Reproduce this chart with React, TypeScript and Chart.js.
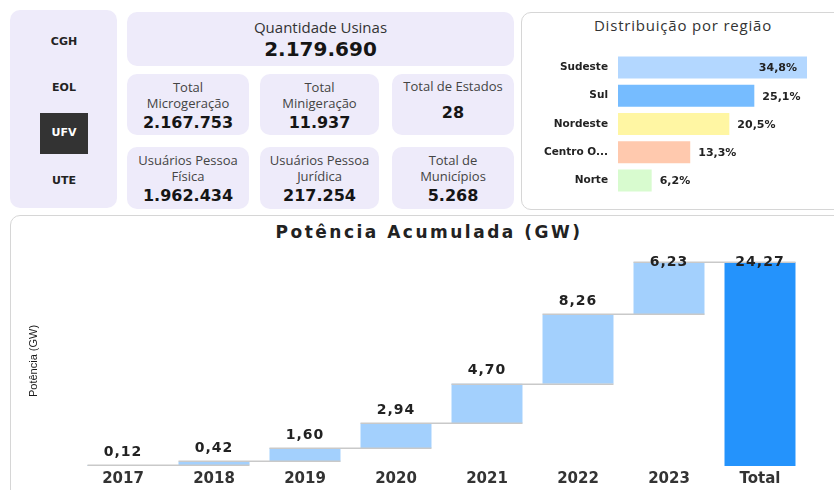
import React, { useEffect, useRef } from "react";
import { Chart, registerables } from "chart.js";

Chart.register(...registerables);

// ---------- data ----------
const slicerItems = ["CGH", "EOL", "UFV", "UTE"];
const selectedItem = "UFV";

const headlineLabel = "Quantidade Usinas";
const headlineValue = "2.179.690";

const kpiLabels = [
  ["Total", "Microgeração"],
  ["Total", "Minigeração"],
  ["Total de Estados"],
  ["Usuários Pessoa", "Física"],
  ["Usuários Pessoa", "Jurídica"],
  ["Total de", "Municípios"],
];
const kpiValues = ["2.167.753", "11.937", "28", "1.962.434", "217.254", "5.268"];

const regionTitle = "Distribuição por região";
const regions = ["Sudeste", "Sul", "Nordeste", "Centro O...", "Norte"];
const regionShares = [34.8, 25.1, 20.5, 13.3, 6.2];
const regionColors = ["#B3D7FF", "#76BCFF", "#FFF6A3", "#FFC9AE", "#D8FBCF"];

const waterfallTitle = "Potência Acumulada (GW)";
const yAxisTitle = "Potência (GW)";
const years = ["2017", "2018", "2019", "2020", "2021", "2022", "2023"];
const yearlyAdditions = [0.12, 0.42, 1.6, 2.94, 4.7, 8.26, 6.23];
const totalLabel = "Total";
const increaseColor = "#A3D0FD";
const totalColor = "#2493FC";

// ---------- helpers ----------
const fmt = (v: number, d: number) => v.toFixed(d).replace(".", ",");

const CARD_BG = "#EEEBFA";

function Line(props: {
  text: string;
  cy: number;
  left: number;
  width: number;
  size: number;
  bold?: boolean;
  family?: string;
  color?: string;
  spacing?: number;
}) {
  const lh = Math.round(props.size * 1.3);
  return (
    <div
      style={{
        position: "absolute",
        left: props.left,
        width: props.width,
        top: props.cy - lh / 2,
        height: lh,
        lineHeight: lh + "px",
        fontSize: props.size,
        fontWeight: props.bold ? 700 : 400,
        fontFamily: props.family || "'Open Sans', sans-serif",
        color: props.color || "#444",
        textAlign: "center",
        whiteSpace: "nowrap",
        letterSpacing: props.spacing ? props.spacing + "px" : undefined,
      }}
    >
      {props.text}
    </div>
  );
}

function RegionChart() {
  const ref = useRef<HTMLCanvasElement | null>(null);
  useEffect(() => {
    if (!ref.current) return;
    const valueLabels = {
      id: "valueLabels",
      afterDatasetsDraw(chart: any) {
        const ctx = chart.ctx;
        const meta = chart.getDatasetMeta(0);
        ctx.save();
        ctx.font = "bold 11px 'DejaVu Sans', sans-serif";
        ctx.fillStyle = "#222";
        ctx.textBaseline = "middle";
        meta.data.forEach((el: any, i: number) => {
          const txt = fmt(regionShares[i], 1) + "%";
          const w = ctx.measureText(txt).width;
          if (el.x + 8 + w > chart.width - 2) {
            ctx.textAlign = "right";
            ctx.fillText(txt, el.x - 10, el.y + 1);
          } else {
            ctx.textAlign = "left";
            ctx.fillText(txt, el.x + 8, el.y + 1);
          }
        });
        ctx.restore();
      },
    };
    const chart = new Chart(ref.current, {
      type: "bar",
      data: {
        labels: regions,
        datasets: [
          {
            data: regionShares,
            backgroundColor: regionColors,
            borderWidth: 0,
            barPercentage: 0.775,
            categoryPercentage: 1,
          },
        ],
      },
      options: {
        indexAxis: "y",
        responsive: false,
        animation: false,
        layout: { padding: { top: 12.75, bottom: 9.75, right: 27, left: 0 } },
        plugins: { legend: { display: false }, tooltip: { enabled: false } },
        scales: {
          x: { display: false, min: 0, max: 34.8 },
          y: {
            grid: { display: false, drawTicks: false },
            border: { display: false },
            ticks: {
              color: "#222",
              padding: 10,
              font: { family: "'DejaVu Sans', sans-serif", size: 10.5, weight: "bold" },
            },
            afterFit(scale: any) {
              scale.width = 97;
            },
          },
        },
      },
      plugins: [valueLabels],
    } as any);
    return () => chart.destroy();
  }, []);
  return (
    <canvas
      ref={ref}
      width={313}
      height={174}
      style={{ position: "absolute", left: 521, top: 37, width: 313, height: 174 }}
    />
  );
}

function WaterfallChart() {
  const ref = useRef<HTMLCanvasElement | null>(null);
  useEffect(() => {
    if (!ref.current) return;
    const ranges: number[][] = [];
    let acc = 0;
    yearlyAdditions.forEach((v) => {
      ranges.push([acc, acc + v]);
      acc += v;
    });
    const total = acc;
    ranges.push([0, total]);
    const shownValues = [...yearlyAdditions, total];
    const colors = [...yearlyAdditions.map(() => increaseColor), totalColor];

    const connectors = {
      id: "connectors",
      afterDatasetsDraw(chart: any) {
        const ctx = chart.ctx;
        const meta = chart.getDatasetMeta(0);
        const ys = chart.scales.y;
        ctx.save();
        ctx.strokeStyle = "#C9C9C9";
        ctx.lineWidth = 1.5;
        for (let i = 0; i < meta.data.length - 1; i++) {
          const a = meta.data[i];
          const b = meta.data[i + 1];
          const y = Math.round(ys.getPixelForValue(ranges[i][1])) + 0.25;
          ctx.beginPath();
          ctx.moveTo(a.x - a.width / 2, y);
          ctx.lineTo(b.x + b.width / 2, y);
          ctx.stroke();
        }
        ctx.restore();
      },
    };
    const labels = {
      id: "barLabels",
      afterDatasetsDraw(chart: any) {
        const ctx = chart.ctx;
        const meta = chart.getDatasetMeta(0);
        ctx.save();
        ctx.letterSpacing = "1px";
        ctx.font = "bold 14px 'DejaVu Sans', sans-serif";
        ctx.fillStyle = "#222";
        ctx.textAlign = "center";
        ctx.textBaseline = "middle";
        meta.data.forEach((el: any, i: number) => {
          const top = Math.min(el.y, el.base);
          const y = Math.max(top - 13, chart.chartArea.top + 6);
          ctx.fillText(fmt(shownValues[i], 2), el.x, y);
        });
        ctx.restore();
      },
    };
    const chart = new Chart(ref.current, {
      type: "bar",
      data: {
        labels: [...years, totalLabel],
        datasets: [
          {
            data: ranges,
            backgroundColor: colors,
            borderWidth: 0,
            borderSkipped: false,
            barPercentage: 0.78,
            categoryPercentage: 1,
          },
        ],
      },
      options: {
        responsive: false,
        animation: false,
        layout: { padding: { top: 16, bottom: 0, left: 13, right: 28.5 } },
        plugins: { legend: { display: false }, tooltip: { enabled: false } },
        scales: {
          x: {
            grid: { display: false, drawTicks: false },
            border: { display: false },
            ticks: {
              color: "#333",
              padding: 4,
              font: { family: "'DejaVu Sans', sans-serif", size: 15, weight: "bold" },
            },
            afterFit(scale: any) {
              scale.height = 24;
            },
          },
          y: {
            min: 0,
            max: 25,
            grid: { display: false, drawTicks: false },
            border: { display: false },
            ticks: { display: false },
            title: {
              display: true,
              text: yAxisTitle,
              color: "#1a1a1a",
              font: {
                family: "'Liberation Sans', Arial, sans-serif",
                size: 11,
              },
            },
            afterFit(scale: any) {
              scale.width = 54.5;
            },
          },
        },
      },
      plugins: [connectors, labels],
    } as any);
    return () => chart.destroy();
  }, []);
  return (
    <canvas
      ref={ref}
      width={824}
      height={250}
      style={{ position: "absolute", left: 10, top: 240, width: 824, height: 250 }}
    />
  );
}

export default function App() {
  const slicerCy = [42, 88, 133, 181];
  const kpiBoxes = [
    { left: 127, top: 74, width: 122, height: 61 },
    { left: 260, top: 74, width: 119, height: 61 },
    { left: 392, top: 74, width: 122, height: 61 },
    { left: 127, top: 147, width: 122, height: 62 },
    { left: 260, top: 147, width: 119, height: 62 },
    { left: 392, top: 147, width: 122, height: 62 },
  ];
  return (
    <div
      style={{
        position: "absolute",
        left: 0,
        top: 0,
        width: 834,
        height: 490,
        overflow: "hidden",
        background: "#fff",
        fontFamily: "'Open Sans', sans-serif",
      }}
    >
      {/* slicer */}
      <div
        style={{
          position: "absolute",
          left: 10,
          top: 10,
          width: 107,
          height: 198,
          background: CARD_BG,
          borderRadius: 10,
        }}
      />
      <div
        style={{
          position: "absolute",
          left: 40,
          top: 113,
          width: 48,
          height: 41,
          background: "#333",
        }}
      />
      {slicerItems.map((s, i) => (
        <Line
          key={s}
          text={s}
          cy={slicerCy[i]}
          left={14}
          width={100}
          size={11}
          bold
          family="'DejaVu Sans', sans-serif"
          color={s === selectedItem ? "#fff" : "#222"}
        />
      ))}

      {/* headline card */}
      <div
        style={{
          position: "absolute",
          left: 127,
          top: 12,
          width: 387,
          height: 54,
          background: CARD_BG,
          borderRadius: 10,
        }}
      />
      <Line text={headlineLabel} cy={27} left={127} width={387} size={15} color="#333" />
      <Line
        text={headlineValue}
        cy={48.5}
        left={127}
        width={387}
        size={20}
        bold
        family="'DejaVu Sans', sans-serif"
        color="#151515"
      />

      {/* kpi cards */}
      {kpiBoxes.map((b, i) => {
        const lines = kpiLabels[i];
        const two = lines.length === 2;
        const labelCy = two ? [b.top + 13, b.top + 29] : [b.top + 12];
        const valueCy = two ? b.top + 48 : b.top + 38;
        return (
          <React.Fragment key={i}>
            <div
              style={{
                position: "absolute",
                left: b.left,
                top: b.top,
                width: b.width,
                height: b.height,
                background: CARD_BG,
                borderRadius: 10,
              }}
            />
            {lines.map((t, j) => (
              <Line key={j} text={t} cy={labelCy[j]} left={b.left} width={b.width} size={13} color="#444" />
            ))}
            <Line
              text={kpiValues[i]}
              cy={valueCy}
              left={b.left}
              width={b.width}
              size={16}
              bold
              family="'DejaVu Sans', sans-serif"
              color="#151515"
            />
          </React.Fragment>
        );
      })}

      {/* region panel */}
      <div
        style={{
          position: "absolute",
          left: 521,
          top: 12,
          width: 340,
          height: 196,
          border: "1px solid #D6D6D6",
          borderRadius: 10,
          background: "#fff",
        }}
      />
      <Line text={regionTitle} cy={25} left={521} width={324} size={15} color="#333" spacing={0.8} />
      <RegionChart />

      {/* waterfall panel */}
      <div
        style={{
          position: "absolute",
          left: 10,
          top: 215,
          width: 850,
          height: 300,
          border: "1px solid #D6D6D6",
          borderRadius: 10,
          background: "#fff",
        }}
      />
      <Line
        text={waterfallTitle}
        cy={232}
        left={274}
        width={310}
        size={17}
        bold
        family="'DejaVu Sans', sans-serif"
        color="#222"
        spacing={2.5}
      />
      <WaterfallChart />
    </div>
  );
}
